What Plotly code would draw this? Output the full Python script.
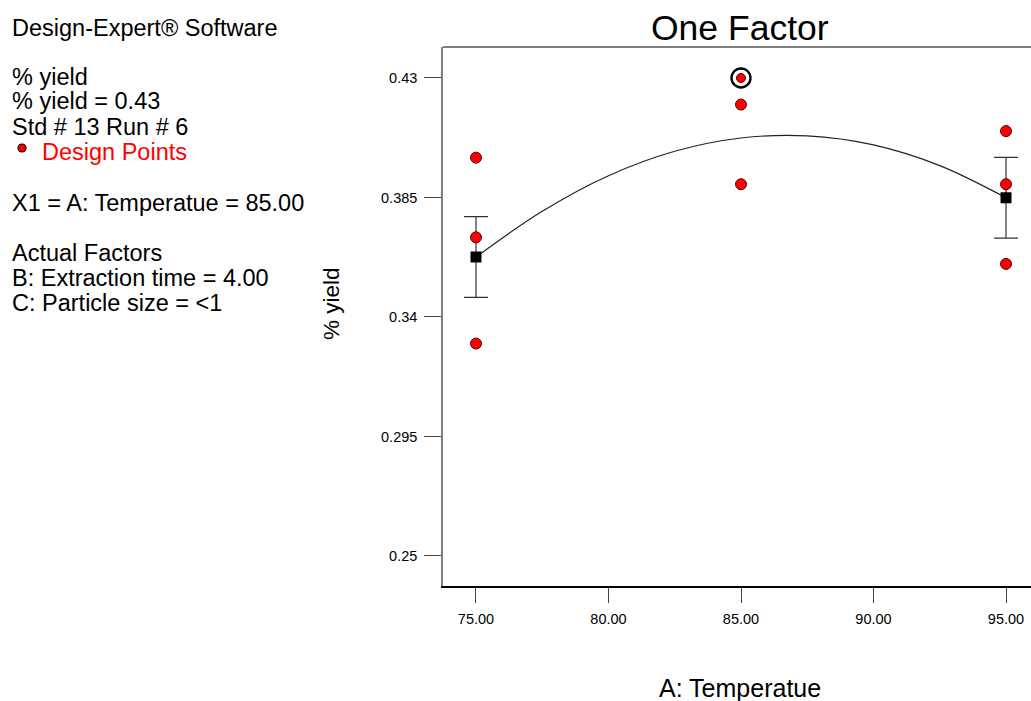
import plotly.graph_objects as go

# Factor levels (A: Temperatue) and observed % yield at each level
temp_75 = [0.40, 0.37, 0.33]
temp_85 = [0.42, 0.39]
temp_95 = [0.41, 0.39, 0.36]

# Selected run (Std # 13, Run # 6)
sel_temp = 85
sel_yield = 0.43

# Predicted means with confidence half-widths at the ends
pred_temp = [75, 95]
pred_yield = [0.3626, 0.3849]
pred_ci = [0.0152, 0.0152]

# Model prediction curve across the factor range
curve_temp = [75, 77.5, 80, 82.5, 85, 87.5, 90, 92.5, 95]
curve_yield = [0.3626, 0.3798, 0.3932, 0.4024, 0.4074, 0.4082, 0.4048, 0.3970, 0.3849]

x_ticks = [75, 80, 85, 90, 95]
x_tick_text = ["75.00", "80.00", "85.00", "90.00", "95.00"]
y_ticks = [0.25, 0.295, 0.34, 0.385, 0.43]
y_tick_text = ["0.25", "0.295", "0.34", "0.385", "0.43"]

W, H = 1031, 701
L, R, T, B = 443, 0, 47, 115
FONT = "Liberation Sans, Arial, sans-serif"


def px(xp):
    return (xp - L) / (W - L - R)


def py(yp):
    return (H - B - yp) / (H - T - B)


fig = go.Figure()

fig.add_trace(go.Scatter(
    x=curve_temp, y=curve_yield, mode="lines",
    line=dict(color="#222222", width=1.2, shape="spline"),
    hoverinfo="skip", showlegend=False))

fig.add_trace(go.Scatter(
    x=pred_temp, y=pred_yield, mode="markers",
    marker=dict(symbol="square", size=11, color="black"),
    error_y=dict(type="data", array=pred_ci, visible=True,
                 color="#333333", thickness=1.2, width=12),
    showlegend=False))

pts_x = [75] * len(temp_75) + [85] * len(temp_85) + [95] * len(temp_95)
pts_y = temp_75 + temp_85 + temp_95
fig.add_trace(go.Scatter(
    x=pts_x, y=pts_y, mode="markers",
    marker=dict(symbol="circle", size=11, color="#ff0000",
                line=dict(color="#5a0000", width=1)),
    showlegend=False))

# Highlighted run: ringed design point
fig.add_trace(go.Scatter(
    x=[sel_temp], y=[sel_yield], mode="markers",
    marker=dict(symbol="circle", size=19, color="white",
                line=dict(color="black", width=2.4)),
    showlegend=False))
fig.add_trace(go.Scatter(
    x=[sel_temp], y=[sel_yield], mode="markers",
    marker=dict(symbol="circle", size=9, color="#ff0000",
                line=dict(color="#5a0000", width=1)),
    showlegend=False))

# Side panel text
side_lines = [
    ("Design-Expert® Software", 28, 10, "black"),
    ("% yield", 77, 10, "black"),
    ("% yield = 0.43", 101, 10, "black"),
    ("Std # 13 Run # 6", 127, 10, "black"),
    ("Design Points", 152, 40, "#ff0000"),
    ("X1 = A: Temperatue = 85.00", 203, 10, "black"),
    ("Actual Factors", 253, 10, "black"),
    ("B: Extraction time = 4.00", 278, 10, "black"),
    ("C: Particle size = <1", 303, 10, "black"),
]
annotations = []
for text, yp, xp, col in side_lines:
    annotations.append(dict(
        text=text, x=px(xp), y=py(yp), xref="paper", yref="paper",
        xanchor="left", yanchor="middle", showarrow=False,
        font=dict(family=FONT, size=23.5, color=col)))

annotations.append(dict(
    text="One Factor", x=px(740), y=py(28), xref="paper", yref="paper",
    xanchor="center", yanchor="middle", showarrow=False,
    font=dict(family=FONT, size=35.5, color="black")))
annotations.append(dict(
    text="A: Temperatue", x=px(740), y=py(688), xref="paper", yref="paper",
    xanchor="center", yanchor="middle", showarrow=False,
    font=dict(family=FONT, size=25, color="black")))
annotations.append(dict(
    text="% yield", x=px(331), y=py(304), xref="paper", yref="paper",
    xanchor="center", yanchor="middle", showarrow=False, textangle=-90,
    font=dict(family=FONT, size=22.5, color="black")))

shapes = [
    # legend dot
    dict(type="circle", xref="paper", yref="paper",
         xsizemode="pixel", ysizemode="pixel",
         xanchor=px(22), yanchor=py(148),
         x0=-4, x1=4, y0=-4, y1=4,
         fillcolor="#ff0000", line=dict(color="black", width=1.2)),
    # frame top edge
    dict(type="line", xref="paper", yref="paper", x0=0, x1=1, y0=1, y1=1,
         line=dict(color="#808080", width=2)),
]

fig.update_layout(
    width=W, height=H,
    margin=dict(l=L, r=R, t=T, b=B, pad=0),
    paper_bgcolor="white", plot_bgcolor="white",
    showlegend=False,
    annotations=annotations,
    shapes=shapes,
    xaxis=dict(
        range=[73.755, 95.943], tickvals=x_ticks, ticktext=x_tick_text,
        showgrid=False, zeroline=False, showline=True,
        linecolor="black", linewidth=1.5,
        ticks="outside", ticklen=15, tickcolor="#444444", tickwidth=1,
        ticklabelstandoff=4,
        tickfont=dict(family=FONT, size=14.5, color="black")),
    yaxis=dict(
        range=[0.2387, 0.44167], tickvals=y_ticks, ticktext=y_tick_text,
        showgrid=False, zeroline=False, showline=True,
        linecolor="#808080", linewidth=1.5,
        ticks="outside", ticklen=17, tickcolor="#444444", tickwidth=1,
        ticklabelstandoff=4,
        tickfont=dict(family=FONT, size=14.5, color="black")),
)

fig.write_html("out.html")
